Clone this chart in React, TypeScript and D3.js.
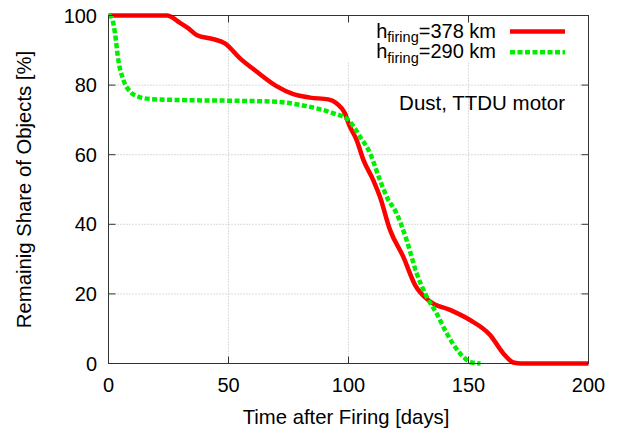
import React from "react";
import * as d3 from "d3";

const xTicks = [0, 50, 100, 150, 200];
const yTicks = [0, 20, 40, 60, 80, 100];

const redDays = [0, 10, 20, 24.3, 29.8, 33.3, 36.7, 43.7, 48.5, 54.8, 61.7, 70, 77, 84, 91.6, 95, 98.5, 100.3, 103.4, 106.2, 110.3, 113.1, 117.3, 122.8, 127.7, 134, 142.3, 150.6, 159, 164.5, 168.7, 172, 200];
const redVals = [100, 100, 100, 100, 97.9, 96.3, 94.4, 93.2, 92.0, 87.7, 83.9, 79.7, 77.4, 76.4, 75.9, 74.8, 71.9, 68.5, 64.2, 58.5, 52.7, 47.9, 38.4, 30.7, 22.6, 17.8, 15.4, 12.5, 8.2, 2.9, 0.3, 0, 0];

const greenDays = [0, 1.3, 2.7, 4.1, 6.2, 9, 12.4, 17.3, 31, 52, 70, 79.8, 86.8, 93.7, 99.9, 104.8, 109, 113.1, 116.6, 119.4, 124.2, 128.4, 132.6, 136.7, 140.9, 146.5, 151.3, 155];
const greenVals = [100, 99.5, 94.9, 87.2, 81.5, 78.1, 76.7, 76.0, 75.7, 75.5, 75.2, 74.3, 73.3, 71.9, 70.0, 65.2, 60.4, 52.7, 47.0, 44.0, 35.5, 25.9, 19.2, 14.4, 8.7, 2.9, 0.3, 0];

const seriesLabels = ["378 km", "290 km"];
const annotation = "Dust, TTDU motor";

export default function App() {
  const L = 108.5, R = 588.5, T = 15.5, B = 363.5;
  const x = d3.scaleLinear().domain([0, 200]).range([L, R]);
  const y = d3.scaleLinear().domain([0, 100]).range([B, T]);
  const line = d3.line<[number, number]>().x(d => x(d[0])).y(d => y(d[1])).curve(d3.curveMonotoneX);
  const red: [number, number][] = redDays.map((d, i) => [d, redVals[i]]);
  const green: [number, number][] = greenDays.map((d, i) => [d, greenVals[i]]);
  const font = "'Liberation Sans', Arial, Helvetica, sans-serif";
  const tick = 7;
  return (
    <svg width={618} height={429} style={{ position: "absolute", left: 0, top: 0, background: "#fff" }} fontFamily={font}>
      <rect x={0} y={0} width={618} height={429} fill="#fff" />
      {xTicks.slice(1, -1).map(t => (
        <line key={"gx" + t} x1={x(t)} x2={x(t)} y1={B} y2={T} stroke="#b8b8b8" strokeWidth={1} strokeDasharray="1,2" />
      ))}
      {yTicks.slice(1, -1).map(t => (
        <line key={"gy" + t} x1={L} x2={R} y1={y(t)} y2={y(t)} stroke="#b8b8b8" strokeWidth={1} strokeDasharray="1,2" />
      ))}
      <rect x={345} y={T + 1} width={R - 346} height={46} fill="#fff" />
      {xTicks.map(t => (
        <g key={"tx" + t}>
          <line x1={x(t)} x2={x(t)} y1={B} y2={B - tick} stroke="#333" strokeWidth={1} />
          <line x1={x(t)} x2={x(t)} y1={T} y2={T + tick} stroke="#333" strokeWidth={1} />
          <text x={x(t)} y={392} fontSize={20} textAnchor="middle" fill="#000">{t}</text>
        </g>
      ))}
      {yTicks.map(t => (
        <g key={"ty" + t}>
          <line x1={L} x2={L + tick} y1={y(t)} y2={y(t)} stroke="#333" strokeWidth={1} />
          <line x1={R} x2={R - tick} y1={y(t)} y2={y(t)} stroke="#333" strokeWidth={1} />
          <text x={97} y={y(t) + 7} fontSize={20} textAnchor="end" fill="#000">{t}</text>
        </g>
      ))}
      <path d={line(red) || ""} fill="none" stroke="#ff0000" strokeWidth={4.5} strokeLinejoin="round" />
      <path d={line(green) || ""} fill="none" stroke="#00ee00" strokeWidth={4.5} strokeDasharray="5,2.5" />
      <rect x={L} y={T} width={R - L} height={B - T} fill="none" stroke="#333" strokeWidth={1} />
      <text x={496} y={37.5} fontSize={20} textAnchor="end" fill="#000">
        h<tspan fontSize={14.5} dy={4.5}>firing</tspan><tspan dy={-4.5}>={seriesLabels[0]}</tspan>
      </text>
      <line x1={510} x2={565} y1={31.5} y2={31.5} stroke="#ff0000" strokeWidth={4.5} />
      <text x={496} y={58.3} fontSize={20} textAnchor="end" fill="#000">
        h<tspan fontSize={14.5} dy={4.5}>firing</tspan><tspan dy={-4.5}>={seriesLabels[1]}</tspan>
      </text>
      <line x1={510} x2={565} y1={52.3} y2={52.3} stroke="#00ee00" strokeWidth={4.5} strokeDasharray="5,2.5" />
      <text x={565} y={110} fontSize={20.5} textAnchor="end" fill="#000">{annotation}</text>
      <text x={346} y={424} fontSize={20.3} textAnchor="middle" fill="#000">Time after Firing [days]</text>
      <text transform={`translate(31,${(T + B) / 2}) rotate(-90)`} fontSize={20.3} textAnchor="middle" fill="#000">Remainig Share of Objects [%]</text>
    </svg>
  );
}
